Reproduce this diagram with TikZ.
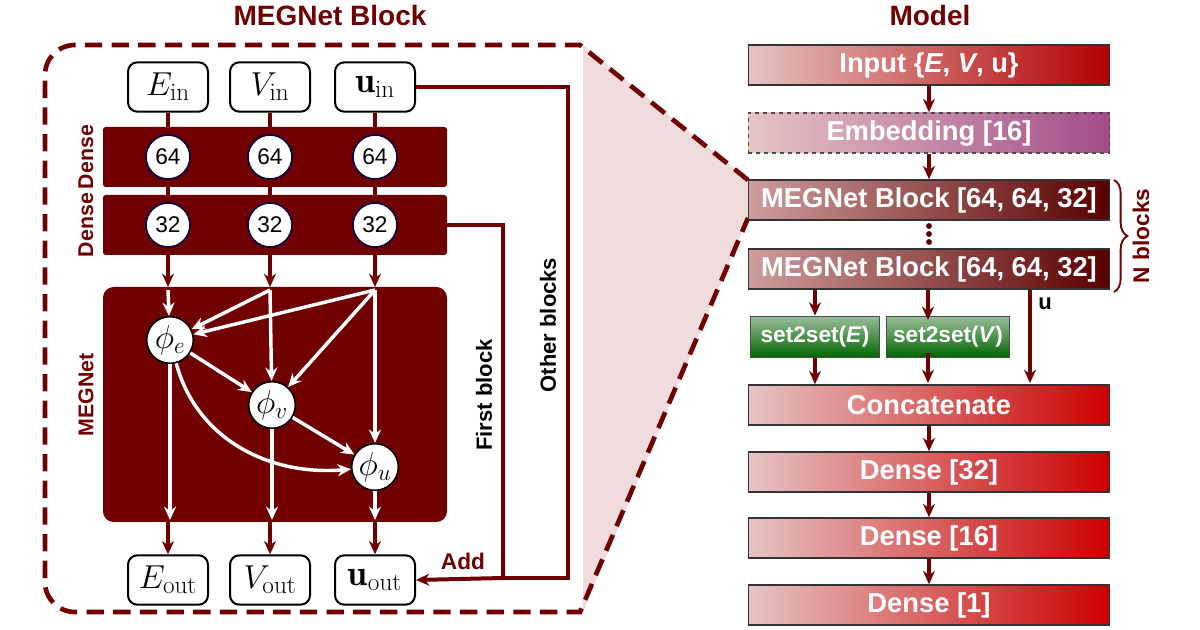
\documentclass[tikz,border=0pt]{standalone}
\usepackage{fontspec}
\setsansfont{Liberation Sans}
\usetikzlibrary{arrows.meta,decorations.pathreplacing}
\definecolor{dred}{HTML}{700000}
\definecolor{lpink}{HTML}{E6C4C4}
\begin{document}
\begin{tikzpicture}[x=0.75pt,y=-0.75pt,
  inbox/.style={draw=black,line width=1.5pt,rounded corners=7pt,fill=white,minimum width=60pt,minimum height=37pt,inner sep=1pt,font=\fontsize{27}{29}\selectfont},
  num/.style={circle,draw=blue!30!black,line width=1.2pt,fill=white,minimum size=33pt,inner sep=0pt,font=\sffamily\fontsize{17}{19}\selectfont},
  phi/.style={circle,draw=black,line width=1.2pt,fill=white,minimum size=35pt,inner sep=0pt,font=\fontsize{25}{27}\selectfont},
  rl/.style={draw=dred,line width=3pt},
  ra/.style={draw=dred,line width=3pt,-{Stealth[length=10pt,width=9pt]}},
  wa/.style={draw=white,line width=2.6pt,-{Stealth[length=10pt,width=9pt]}},
  mbox/.style={draw=black!80,line width=1.2pt,minimum width=271pt,minimum height=30pt,text=white,inner sep=1pt,font=\sffamily\bfseries\fontsize{20.5}{23}\selectfont},
  gbox/.style={draw=black!70,line width=1.2pt,top color=green!35!black!40!white,bottom color=green!40!black,minimum height=31pt,text=white,font=\sffamily\bfseries\fontsize{17}{19}\selectfont,inner sep=0pt},
  lbl/.style={font=\sffamily\bfseries\fontsize{16}{18}\selectfont,text=dred},
  blbl/.style={font=\sffamily\bfseries\fontsize{16.5}{18}\selectfont}]
\useasboundingbox (0,0) rectangle (1200,630);
% zoom shading
\fill[lpink,opacity=0.6] (583,45) -- (748,180) -- (748,218) -- (583,612) -- cycle;
\draw[dred,line width=3.5pt,dash pattern=on 13pt off 7pt]
  (748,180) -- (580,45) -- (75,45) to[out=180,in=90] (45,75) -- (45,582) to[out=-90,in=180] (75,612) -- (580,612) -- (748,218);
\node[font=\sffamily\bfseries\fontsize{21}{23}\selectfont,text=dred] (t1) at (330,15) {MEGNet Block};
\node[font=\sffamily\bfseries\fontsize{21}{23}\selectfont,text=dred] (t2) at (930,15) {Model};
% bars
\fill[dred,rounded corners=2pt] (103,127) rectangle (447,187);
\fill[dred,rounded corners=2pt] (103,195) rectangle (447,255);
\fill[dred,rounded corners=8pt] (103,287) rectangle (447,522);
\node[lbl,rotate=90] (d1) at (86,157) {Dense};
\node[lbl,rotate=90] (d2) at (86,225) {Dense};
\node[lbl,rotate=90] (mg) at (86,395) {MEGNet};
\coordinate (bar2r) at (447,225);
% columns
\foreach \n/\x/\lab in {E/168/E,V/270/V,U/375/\mathbf{u}}{
  \node[inbox] (\n in) at (\x,87) {$\lab_{\mathrm{in}}$};
  \node[inbox] (\n out) at (\x,580) {$\lab_{\mathrm{out}}$};
  \node[num] (\n a) at (\x,157) {64};
  \node[num] (\n b) at (\x,225) {32};
  \coordinate (\n top) at (\x,290);
  \coordinate (\n bot) at (\x,522);
  \draw[rl] (\n in) -- (\n a);
  \draw[rl] (\n a) -- (\n b);
  \draw[ra] (\n b) -- (\x,287);
  \draw[ra] (\n bot) -- (\n out);
}
\node[phi] (pe) at (170,340) {$\phi_e$};
\node[phi] (pv) at (272,405) {$\phi_v$};
\node[phi] (pu) at (375,467) {$\phi_u$};
\draw[wa] (Etop) -- (pe);
\draw[wa] (Vtop) -- (pe);
\draw[wa] (Utop) -- (pe);
\draw[wa] (Vtop) -- (pv);
\draw[wa] (Utop) -- (pv);
\draw[wa] (Utop) -- (pu);
\draw[wa] (pe) -- (pv);
\draw[wa] (pv) -- (pu);
\draw[wa] (pe) to[out=-75,in=185] (pu);
\draw[wa] (pe.south) -- (170,520);
\draw[wa] (pv.south) -- (272,520);
\draw[wa] (pu.south) -- (375,520);
% skip connections
\coordinate (j1) at (568,87);
\coordinate (j2) at (568,578);
\coordinate (k1) at (503,225);
\coordinate (k2) at (503,578);
\draw[rl] (Uin.east) -- (j1) -- (j2) -- (k2);
\draw[rl] (bar2r) -- (k1) -- (k2);
\draw[ra] (k2) -- (Uout.east);
\node[lbl,font=\sffamily\bfseries\fontsize{17}{19}\selectfont] (add) at (463,561) {Add};
\node[blbl,rotate=90] (fb) at (484,395) {First block};
\node[blbl,rotate=90] (ob) at (548,325) {Other blocks};
% model
\node[mbox,left color=lpink,right color=red!70!black] (inp) at (929,65) {Input \{\textit{E}, \textit{V}, u\}};
\node[mbox,dashed,draw=black!70,left color=lpink,right color=magenta!40!black!60!pink] (emb) at (929,133) {Embedding [16]};
\node[mbox,left color=lpink!80!dred,right color=dred!80!black] (mb1) at (929,200) {MEGNet Block [64, 64, 32]};
\node[mbox,left color=lpink!80!dred,right color=dred!80!black] (mb2) at (929,269) {MEGNet Block [64, 64, 32]};
\node[gbox,minimum width=97pt] (s1) at (815,337) {set2set(\textit{E})};
\node[gbox,minimum width=92pt] (s2) at (948,337) {set2set(\textit{V})};
\node[mbox,left color=lpink,right color=red!80!black] (cc) at (929,405) {Concatenate};
\node[mbox,left color=lpink,right color=red!80!black] (d32) at (929,472) {Dense [32]};
\node[mbox,left color=lpink,right color=red!80!black] (d16) at (929,538) {Dense [16]};
\node[mbox,left color=lpink,right color=red!80!black] (d1b) at (929,605) {Dense [1]};
\draw[ra] (inp) -- (emb);
\draw[ra] (emb) -- (mb1);
\foreach \yy in {226,234,242} \fill[dred!70!black] (929,\yy) circle (2.2pt);
\draw[ra] (mb2.south -| s1) -- (s1);
\draw[ra] (mb2.south -| 928,0) -- (928,320);
\draw[ra] (s1) -- (s1 |- cc.north);
\draw[ra] (928,353) -- (928,383);
\coordinate (uu) at (1030,290);
\draw[ra] (uu) -- (1030,383);
\node[blbl] (ulab) at (1045,304) {u};
\draw[ra] (cc) -- (d32);
\draw[ra] (d32) -- (d16);
\draw[ra] (d16) -- (d1b);
\draw[dred,line width=1.4pt,decoration={brace,amplitude=10pt},decorate] (1114,180) -- (1114,292);
\node[lbl,font=\sffamily\bfseries\fontsize{17}{19}\selectfont,rotate=90] (nb) at (1141,236) {N blocks};
\end{tikzpicture}
\end{document}
